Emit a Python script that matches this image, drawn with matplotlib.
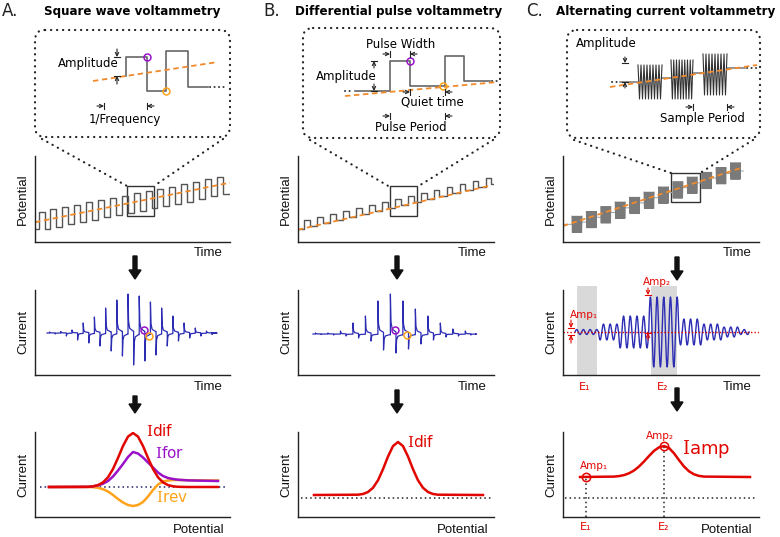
import numpy as np
import matplotlib.pyplot as plt
from matplotlib.patches import FancyBboxPatch, FancyArrow, Rectangle

plt.rcParams['mathtext.fontset'] = 'dejavuserif'

# ---------------- values ----------------
# A. square wave voltammetry
swv_base = [2.5, 2.8, 3.05, 3.3, 3.6, 3.85, 4.1, 4.4, 4.65, 4.9, 5.2, 5.45, 5.7, 6.0, 6.3, 6.6]
swv_amp = 1.0
swv_ramp_t = [0, 16.4]
swv_ramp_e = [2.3, 6.9]
swv_up = [1, 1.5, 3, 10, 16, 25, 33, 39, 37, 31, 25, 17, 10, 5, 2]
swv_down = [1, 3, 7, 10, 13, 18, 23, 32, 28, 22, 13, 8, 5, 3, 1.5]
swv_pot = [14, 53, 58, 63, 68, 73, 78, 83, 88, 93, 98, 103, 108, 113, 118, 123, 128, 133, 138, 143, 153, 183]
swv_idif = [30, 30.2, 30.7, 31.9, 34.6, 39.7, 48.0, 59.1, 71.0, 80.4, 84, 80.4, 71.0, 59.1, 48.0, 39.7, 34.6, 31.9, 30.7, 30.2, 30, 30]
swv_ifor = [30, 30.1, 30.6, 31.6, 33.3, 36, 40.5, 46.5, 53, 60, 65, 63.5, 59.5, 54.5, 49.5, 44.5, 41, 39, 38, 37.3, 36.6, 36]
swv_irev = [30, 30, 29.8, 29.2, 27.8, 25.5, 22, 18, 14.5, 12, 11, 12, 15, 20.5, 27, 32.5, 35.5, 36.5, 37, 37, 36.8, 36.5]

# B. differential pulse voltammetry
dpv_base = [1.55, 1.9, 2.25, 2.6, 2.95, 3.3, 3.65, 4.0, 4.35, 4.7, 5.05, 5.4, 5.75, 6.1, 6.45, 6.8]
dpv_amp = 1.05
dpv_ramp_t = [0, 14.8]
dpv_ramp_e = [1.43, 6.55]
dpv_up = [1, 1, 3, 11, 18, 33, 40, 33, 25, 18, 11, 5, 3]
dpv_down = [0.5, 1, 2, 4, 7, 16, 19, 15, 10, 6, 3, 2, 1]
dpv_pot = [16, 60, 65, 70, 75, 80, 85, 90, 95, 100, 105, 110, 115, 120, 125, 130, 135, 140, 185]
dpv_idif = [22, 22.3, 23, 25, 29.2, 36.7, 47.8, 60.5, 70.9, 75, 70.9, 60.5, 47.8, 36.7, 29.2, 25, 23, 22.3, 22]

# C. alternating current voltammetry
acv_level = [2.05, 2.6, 3.15, 3.7, 4.25, 4.85, 5.45, 6.05, 6.6, 7.15, 7.7, 8.25]
acv_block_amp = 0.95
acv_ramp_t = [0, 12.4]
acv_ramp_e = [1.86, 8.64]
acv_edges = [12, 35, 57, 87, 115, 139, 159, 175, 189]
acv_env = [2.5, 8, 16, 35, 13, 8, 5, 2.5]
acv_win = [(14, 34), (88, 114)]
acv_pot = [17, 51, 56, 61, 66, 71, 76, 81, 86, 91, 96, 101, 106, 111, 116, 121, 126, 131, 136, 141, 187]
acv_iamp = [40, 40.4, 40.9, 41.9, 43.7, 46.5, 50.5, 55.5, 61, 66.1, 69.7, 71, 69, 63.7, 56.9, 50.5, 45.7, 42.7, 41.1, 40.4, 40]
acv_mark_x = [23, 101]
acv_mark_y = [40, 71]

# zoomed waveforms (inset units)
swvz_x = [91, 91, 112, 112, 131, 131, 153, 153, 173]
swvz_y = [61, 80, 80, 46, 46, 86, 86, 50, 50]
dpvz_x = [52, 87, 87, 107, 107, 142, 142, 161, 161, 187]
dpvz_y = [47, 47, 77, 77, 52, 52, 82, 82, 57, 57]
acvz_seg_x0 = [53, 95, 126, 160]
acvz_seg_x1 = [71, 104, 136, 178]
acvz_seg_y = [56, 60, 65, 70]
acvz_blk_x0 = [71, 104, 136]
acvz_blk_x1 = [95, 126, 160]
acvz_blk_c = [56, 58.5, 63.5]
acvz_blk_a = [17, 19.5, 20.5]

RED = '#e10600'
PURPLE = '#9a12c8'
ORANGE = '#ffa31a'
DASH = '#f08a2a'
BLUE = '#2d2db4'
GREY = '#555555'

W, H = 780, 537
fig = plt.figure(figsize=(7.8, 5.37), dpi=100)


def px_axes(x0, y0, x1, y1, frame=True):
    ax = fig.add_axes([x0 / W, 1 - y1 / H, (x1 - x0) / W, (y1 - y0) / H])
    ax.patch.set_alpha(0)
    ax.set_xticks([])
    ax.set_yticks([])
    if frame:
        ax.spines['top'].set_visible(False)
        ax.spines['right'].set_visible(False)
        for s in ['left', 'bottom']:
            ax.spines[s].set_linewidth(1.0)
            ax.spines[s].set_color('#222222')
    else:
        ax.axis('off')
    return ax


def bar_arrow(ax, x, y, dx, dy, color='#222222', bar=3):
    ax.annotate('', xy=(x, y), xytext=(x - dx, y - dy),
                arrowprops=dict(arrowstyle='->', color=color, lw=0.8,
                                shrinkA=0, shrinkB=0, mutation_scale=6))
    if dx:
        ax.plot([x, x], [y - bar, y + bar], color=color, lw=0.8)
    else:
        ax.plot([x - bar, x + bar], [y, y], color=color, lw=0.8)


SPIKE_DT = [0, 0.05, 0.15, 0.45]
SPIKE_FR = [1, 0.3, 0.12, 0.05]


def spike_trace(t_start, t_end, t_up, up, gap, down):
    t, c = [t_start], [0]
    for tu, u, d in zip(t_up, up, down):
        for t0, h in [(tu, u), (tu + gap, -d)]:
            t.append(t0)
            c.append(c[-1])
            for dt, fr in zip(SPIKE_DT, SPIKE_FR):
                t.append(t0 + dt)
                c.append(h * fr)
    t.append(t_end)
    c.append(0)
    return t, c


def circle(ax, x, y, col, ms=5):
    ax.plot(x, y, 'o', mfc='none', mec=col, ms=ms, mew=1.1, clip_on=False)


# ================= A. Square wave =================
ax = px_axes(35, 156, 230, 242)
ax.set_xlim(0, 16.4)
ax.set_ylim(0, 10)
t, e = [0], [swv_base[0] - swv_amp]
for i, b in enumerate(swv_base):
    t += [i + 0.3, i + 0.3, i + 0.8, i + 0.8]
    e += [e[-1], b + swv_amp, b + swv_amp, b - swv_amp]
t.append(16.3)
e.append(e[-1])
ax.plot(t, e, color=GREY, lw=1.0)
ax.plot(swv_ramp_t, swv_ramp_e, color=DASH, lw=1.3, dashes=(3, 2))
ax.add_patch(Rectangle((7.7, 3.0), 2.3, 3.5, fill=False, ec='#333333', lw=1.0))

ax = px_axes(35, 290, 230, 375)
ax.set_xlim(0, 17.4)
ax.set_ylim(-42, 43)
t, c = spike_trace(1.07, 15.8, [i + 1.3 for i in range(len(swv_up))], swv_up, 0.5, swv_down)
ax.plot(t, c, color=BLUE, lw=0.9)
circle(ax, 9.75, 3, PURPLE)
circle(ax, 10.2, -3, ORANGE)

ax = px_axes(35, 432, 230, 517)
ax.set_xlim(0, 195)
ax.set_ylim(0, 85)
ax.plot([5, 190], [30, 30], color='#222266', lw=1.1, ls=(0, (1, 2)))
ax.plot(swv_pot, swv_irev, color=ORANGE, lw=1.8)
ax.plot(swv_pot, swv_ifor, color=PURPLE, lw=1.8)
ax.plot(swv_pot, swv_idif, color=RED, lw=1.8)
ax.text(125, 86, r'$\mathrm{I}\mathsf{dif}$', color=RED, fontsize=11, ha='center', va='center')
ax.text(135, 64, r'$\mathrm{I}\mathsf{for}$', color=PURPLE, fontsize=11, ha='center', va='center')
ax.text(137, 19, r'$\mathrm{I}\mathsf{rev}$', color=ORANGE, fontsize=11, ha='center', va='center')

ins = px_axes(35, 30, 230, 137, frame=False)
ins.set_xlim(0, 195)
ins.set_ylim(0, 107)
ins.plot(swvz_x, swvz_y, color='#666666', lw=1.2)
ins.plot([175, 192], [50, 50], color='#333333', lw=1.4, ls=(0, (0.1, 2.2)), dash_capstyle='round')
ins.plot([58, 183], [56, 75], color=DASH, lw=1.3, dashes=(3, 2))
circle(ins, 112, 80, PURPLE)
circle(ins, 131, 46, ORANGE)
bar_arrow(ins, 82, 80, 0, -8)
bar_arrow(ins, 82, 61, 0, 8)
ins.text(53, 73, 'Amplitude', fontsize=8.5, ha='center', va='center')
bar_arrow(ins, 69, 31, 7, 0)
bar_arrow(ins, 112, 31, -7, 0)
ins.text(90, 18, '1/Frequency', fontsize=8.5, ha='center', va='center')

# ================= B. Differential pulse =================
ax = px_axes(298, 156, 494, 242)
ax.set_xlim(0, 15.1)
ax.set_ylim(0, 10)
t, e = [0], [dpv_base[0]]
for i in range(len(dpv_base) - 1):
    top = dpv_base[i] + dpv_amp
    t += [i + 0.46, i + 0.46, i + 0.9, i + 0.9]
    e += [dpv_base[i], top, top, dpv_base[i + 1]]
t.append(15.1)
e.append(dpv_base[-1])
ax.plot(t, e, color=GREY, lw=1.0)
ax.plot(dpv_ramp_t, dpv_ramp_e, color=DASH, lw=1.3, dashes=(3, 2))
ax.add_patch(Rectangle((7.08, 3.0), 2.08, 3.5, fill=False, ec='#333333', lw=1.0))

ax = px_axes(298, 290, 494, 375)
ax.set_xlim(0, 15.7)
ax.set_ylim(-41, 44)
t, c = spike_trace(1.2, 14.24, [i + 1.4 for i in range(len(dpv_up))], dpv_up, 0.45, dpv_down)
ax.plot(t, c, color=BLUE, lw=0.9)
circle(ax, 7.8, 4, PURPLE)
circle(ax, 8.7, -1, ORANGE)

ax = px_axes(298, 432, 494, 517)
ax.set_xlim(0, 196)
ax.set_ylim(0, 85)
ax.plot([3, 193], [19, 19], color='#222222', lw=1.1, ls=(0, (1, 2)))
ax.plot(dpv_pot, dpv_idif, color=RED, lw=1.8)
ax.text(123, 75, r'$\mathrm{I}\mathsf{dif}$', color=RED, fontsize=11, ha='center', va='center')

ins = px_axes(303, 28, 500, 138, frame=False)
ins.set_xlim(0, 197)
ins.set_ylim(0, 110)
ins.plot(dpvz_x, dpvz_y, color='#666666', lw=1.2)
ins.plot([42, 50], [47, 47], color='#333333', lw=1.4, ls=(0, (0.1, 2.2)), dash_capstyle='round')
ins.plot([189, 197], [57, 57], color='#333333', lw=1.4, ls=(0, (0.1, 2.2)), dash_capstyle='round')
ins.plot([42, 195], [42, 56], color=DASH, lw=1.3, dashes=(3, 2))
circle(ins, 107, 77, PURPLE)
circle(ins, 140, 52, ORANGE)
ins.text(98, 94, 'Pulse Width', fontsize=8.5, ha='center', va='center')
bar_arrow(ins, 87, 84, 7, 0)
bar_arrow(ins, 107, 84, -7, 0)
bar_arrow(ins, 71, 77, 0, 7)
bar_arrow(ins, 71, 47, 0, -7)
ins.text(43, 62, 'Amplitude', fontsize=8.5, ha='center', va='center')
bar_arrow(ins, 107, 46, 7, 0)
bar_arrow(ins, 142, 46, -7, 0)
ins.text(129, 36, 'Quiet time', fontsize=8.5, ha='center', va='center')
bar_arrow(ins, 87, 22, 7, 0)
bar_arrow(ins, 142, 22, -7, 0)
ins.text(108, 11, 'Pulse Period', fontsize=8.5, ha='center', va='center')

# ================= C. Alternating current =================
ax = px_axes(563, 156, 759, 242)
ax.set_xlim(0, 13.6)
ax.set_ylim(0, 10)
hw = 0.35
cen = [i + 0.97 for i in range(len(acv_level))]
lx, ly = [0, cen[0] - hw], [acv_level[0], acv_level[0]]
for i in range(len(acv_level) - 1):
    mid = (acv_level[i] + acv_level[i + 1]) / 2
    lx += [cen[i] + hw, cen[i + 1] - hw]
    ly += [mid, mid]
lx += [cen[-1] + hw, 12.5]
ly += [acv_level[-1], acv_level[-1]]
ax.plot(lx, ly, color='#aaaaaa', lw=0.8)
for cx, lev in zip(cen, acv_level):
    zx = np.linspace(cx - hw, cx + hw, 25)
    zy = [lev + acv_block_amp * (-1) ** k for k in range(25)]
    ax.plot(zx, zy, color='#7a7a7a', lw=0.7)
ax.plot(acv_ramp_t, acv_ramp_e, color=DASH, lw=1.3, dashes=(3, 2))
ax.add_patch(Rectangle((7.5, 4.65), 2.0, 3.37, fill=False, ec='#333333', lw=1.0))

ax = px_axes(563, 290, 759, 375)
ax.set_xlim(0, 196)
ax.set_ylim(-43, 42)
for a, b in acv_win:
    ax.axvspan(a, b, ymin=0, ymax=1.05, color='#d9d9d9', lw=0, clip_on=False, zorder=0)
half = 3.35
xs, ys = [], []
for k in range(int((acv_edges[-1] - acv_edges[0]) / half)):
    x0 = acv_edges[0] + k * half
    g = min(np.searchsorted(acv_edges, x0 + half / 2) - 1, len(acv_env) - 1)
    s = np.linspace(0, 1, 9)
    xs.extend(x0 + s * half)
    ys.extend((-1) ** k * acv_env[g] * np.sin(np.pi * s))
ax.plot(xs, ys, color=BLUE, lw=1.0)
ax.plot([0, 196], [0, 0], color=RED, lw=1.0, ls=(0, (1, 1.5)))
bar_arrow(ax, 8, 4, 0, -8, color=RED)
bar_arrow(ax, 8, -3, 0, 8, color=RED)
ax.text(21, 17, 'Amp₁', color=RED, fontsize=7.5, ha='center', va='center')
bar_arrow(ax, 85, 37, 0, -7, color=RED)
bar_arrow(ax, 85, -1, 0, 7, color=RED)
ax.text(94, 50, 'Amp₂', color=RED, fontsize=7.5, ha='center', va='center')

ax = px_axes(563, 432, 759, 517)
ax.set_xlim(0, 196)
ax.set_ylim(0, 85)
ax.plot([2, 192], [19, 19], color='#222222', lw=1.1, ls=(0, (1, 2)))
for mx, my in zip(acv_mark_x, acv_mark_y):
    ax.plot([mx, mx], [0, my], color='#222222', lw=1.1, ls=(0, (1, 2)))
ax.plot(acv_pot, acv_iamp, color=RED, lw=1.8)
for mx, my in zip(acv_mark_x, acv_mark_y):
    circle(ax, mx, my, RED, ms=6)
ax.text(30.5, 51, 'Amp₁', color=RED, fontsize=7.5, ha='center', va='center')
ax.text(97, 81, 'Amp₂', color=RED, fontsize=7.5, ha='center', va='center')
ax.text(143, 68, r'$\mathrm{I}\mathsf{amp}$', color=RED, fontsize=13, ha='center', va='center')

ins = px_axes(567, 30, 760, 138, frame=False)
ins.set_xlim(0, 193)
ins.set_ylim(0, 108)
ins.plot([45, 53], [56, 56], color='#333333', lw=1.4, ls=(0, (0.1, 2.2)), dash_capstyle='round')
ins.plot([180, 190], [70, 70], color='#333333', lw=1.4, ls=(0, (0.1, 2.2)), dash_capstyle='round')
for a, b, y in zip(acvz_seg_x0, acvz_seg_x1, acvz_seg_y):
    ins.plot([a, b], [y, y], color='#777777', lw=1.1)
for a, b, cy, amp in zip(acvz_blk_x0, acvz_blk_x1, acvz_blk_c, acvz_blk_a):
    zx = np.linspace(a, b, 17)
    zy = [cy + amp * (-1) ** k for k in range(17)]
    ins.plot(zx, zy, color='#333333', lw=0.8)
ins.plot([43, 190], [51, 73], color=DASH, lw=1.3, dashes=(3, 2))
ins.text(39, 94, 'Amplitude', fontsize=8.5, ha='center', va='center')
bar_arrow(ins, 58, 75, 0, -6)
bar_arrow(ins, 58, 56, 0, 6)
bar_arrow(ins, 126, 31, 7, 0)
bar_arrow(ins, 160, 31, -7, 0)
ins.text(135, 20, 'Sample Period', fontsize=8.5, ha='center', va='center')

# ================= decorations (pixel coordinates) =================
deco = fig.add_axes([0, 0, 1, 1], zorder=10)
deco.set_xlim(0, W)
deco.set_ylim(H, 0)
deco.axis('off')
deco.patch.set_alpha(0)

dots = dict(color='#222222', lw=1.6, ls=(0, (0.1, 2.6)), dash_capstyle='round')
boxes = [(35, 30, 230, 137), (303, 28, 500, 138), (567, 30, 760, 138)]
for x0, y0, x1, y1 in boxes:
    p = FancyBboxPatch((x0, y0), x1 - x0, y1 - y0, boxstyle='round,pad=0,rounding_size=10',
                       fill=False, ec='#222222', lw=1.6, ls=(0, (0.1, 2.6)))
    p.set_capstyle('round')
    deco.add_patch(p)
links = [((42, 139), (127, 186)), ((223, 139), (154, 186)),
         ((310, 140), (390, 187)), ((493, 140), (417, 187)),
         ((574, 140), (671, 173)), ((753, 140), (700, 173))]
for (xa, ya), (xb, yb) in links:
    deco.plot([xa, xb], [ya, yb], **dots)

for x, ya, yb in [(135, 256, 279), (135, 396, 413), (397, 256, 279), (397, 390, 413),
                  (677, 257, 280), (677, 388, 411)]:
    deco.add_patch(FancyArrow(x, ya, 0, yb - ya, width=4, head_width=12, head_length=9,
                              length_includes_head=True, color='#111111'))

for lbl, x, title, tx in [('A.', 2, 'Square wave voltammetry', 132.5),
                          ('B.', 263, 'Differential pulse voltammetry', 398.5),
                          ('C.', 526, 'Alternating current voltammetry', 666)]:
    deco.text(x, 11, lbl, fontsize=12, ha='left', va='center', color='#222222')
    deco.text(tx, 11, title, fontsize=8.6, fontweight='bold', ha='center', va='center')

lab = dict(fontsize=9.5, family='Liberation Sans', color='#111111')
for x0, x1 in [(35, 230), (298, 494), (563, 759)]:
    deco.text(x0 - 12, 199, 'Potential', rotation=90, ha='center', va='center', **lab)
    deco.text(x1 - 7, 253, 'Time', ha='right', va='center', **lab)
    deco.text(x0 - 12, 332, 'Current', rotation=90, ha='center', va='center', **lab)
    deco.text(x1 - 7, 387, 'Time', ha='right', va='center', **lab)
    deco.text(x0 - 12, 475, 'Current', rotation=90, ha='center', va='center', **lab)
    deco.text(x1 - 6, 530, 'Potential', ha='right', va='center', **lab)

for txt, x, y in [('E₁', 585, 387), ('E₂', 663, 387), ('E₁', 586, 527), ('E₂', 664, 527)]:
    deco.text(x, y, txt, color=RED, fontsize=8, ha='center', va='center')

fig.savefig('out.png', dpi=100)
